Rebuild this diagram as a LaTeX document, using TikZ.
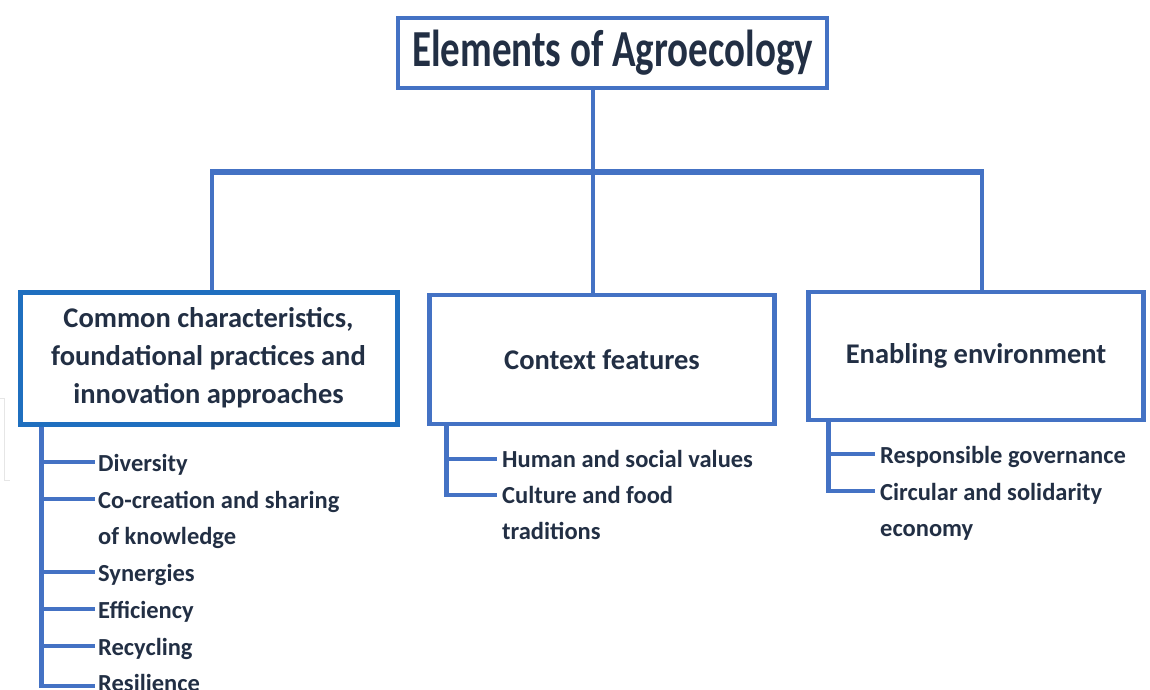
\documentclass[tikz,border=0pt]{standalone}
\usepackage{fontspec}
\setmainfont{Carlito}
\newfontfamily\titlefont[FakeStretch=0.75]{Carlito}
\definecolor{lineblue}{HTML}{4472C4}
\definecolor{leftblue}{HTML}{1F6FBF}
\definecolor{txt}{HTML}{222F44}
\definecolor{faint}{HTML}{E6E6E6}
\begin{document}
\begin{tikzpicture}[x=1pt,y=-1pt,
  box/.style={draw=lineblue, line width=4.5pt, inner sep=0pt, align=center, text=txt,
    font=\fontsize{28.5}{38}\selectfont\bfseries},
  conn/.style={draw=lineblue, line width=4.5pt},
  bar/.style={draw=lineblue, line width=6pt},
  item/.style={anchor=base west, inner sep=0pt, text=txt, align=left,
    font=\fontsize{24.5}{36}\selectfont\bfseries}]
\useasboundingbox (0,0) rectangle (1150,690);
% faint artifact
\draw[faint, line width=1pt] (0,398) -- (4,398) -- (4,480) -- (10,480);
% boxes
\node[box, minimum width=429pt, minimum height=70pt,
  font=\fontsize{52}{60}\selectfont\titlefont\bfseries] (top) at (612.5,53) {Elements of Agroecology};
\node[box, draw=leftblue, line width=5pt, minimum width=377pt, minimum height=132pt] (L) at (208.5,358)
  {Common characteristics,\\foundational practices and\\innovation approaches};
\node[box, minimum width=345pt, minimum height=129pt] (M) at (602,359.5) {Context features};
\node[box, minimum width=335pt, minimum height=128pt] (R) at (976,356) {Enabling environment};
% tree connectors
\coordinate (bl) at (212,172);
\coordinate (bm) at (593,172);
\coordinate (br) at (982,172);
\draw[bar] ([xshift=-1.75pt]bl) -- ([xshift=1.75pt]br);
\draw[conn, line width=3.5pt] (bm |- top.south) -- (bm |- M.north);
\draw[conn, line width=3.5pt] (bl) -- (bl |- L.north);
\draw[conn, line width=3.5pt] (br) -- (br |- R.north);
% left list (multi-line nodes: base = last line)
\node[item] (i1) at (98,471) {Diversity};
\node[item] (i2) at (98,544) {Co-creation and sharing\\of knowledge};
\node[item] (i3) at (98,581) {Synergies};
\node[item] (i4) at (98,618) {Efficiency};
\node[item] (i5) at (98,655) {Recycling};
\node[item] (i6) at (98,691) {Resilience};
\coordinate (lv) at ([xshift=24pt]L.south west);
\foreach \n/\dy in {i1/9,i2/45,i3/9,i4/9,i5/9,i6/5}{
  \draw[conn] (lv) |- ([xshift=-3pt,yshift=\dy pt]\n.base west);
}
% middle list
\node[item] (m1) at (502,467) {Human and social values};
\node[item] (m2) at (502,539) {Culture and food\\traditions};
\coordinate (mv) at ([xshift=19pt]M.south west);
\foreach \n/\dy in {m1/8,m2/44}{
  \draw[conn] (mv) |- ([xshift=-5pt,yshift=\dy pt]\n.base west);
}
% right list
\node[item] (r1) at (880,463) {Responsible governance};
\node[item] (r2) at (880,536) {Circular and solidarity\\economy};
\coordinate (rv) at ([xshift=22pt]R.south west);
\foreach \n/\dy in {r1/9,r2/45}{
  \draw[conn] (rv) |- ([xshift=-5pt,yshift=\dy pt]\n.base west);
}
\end{tikzpicture}
\end{document}
